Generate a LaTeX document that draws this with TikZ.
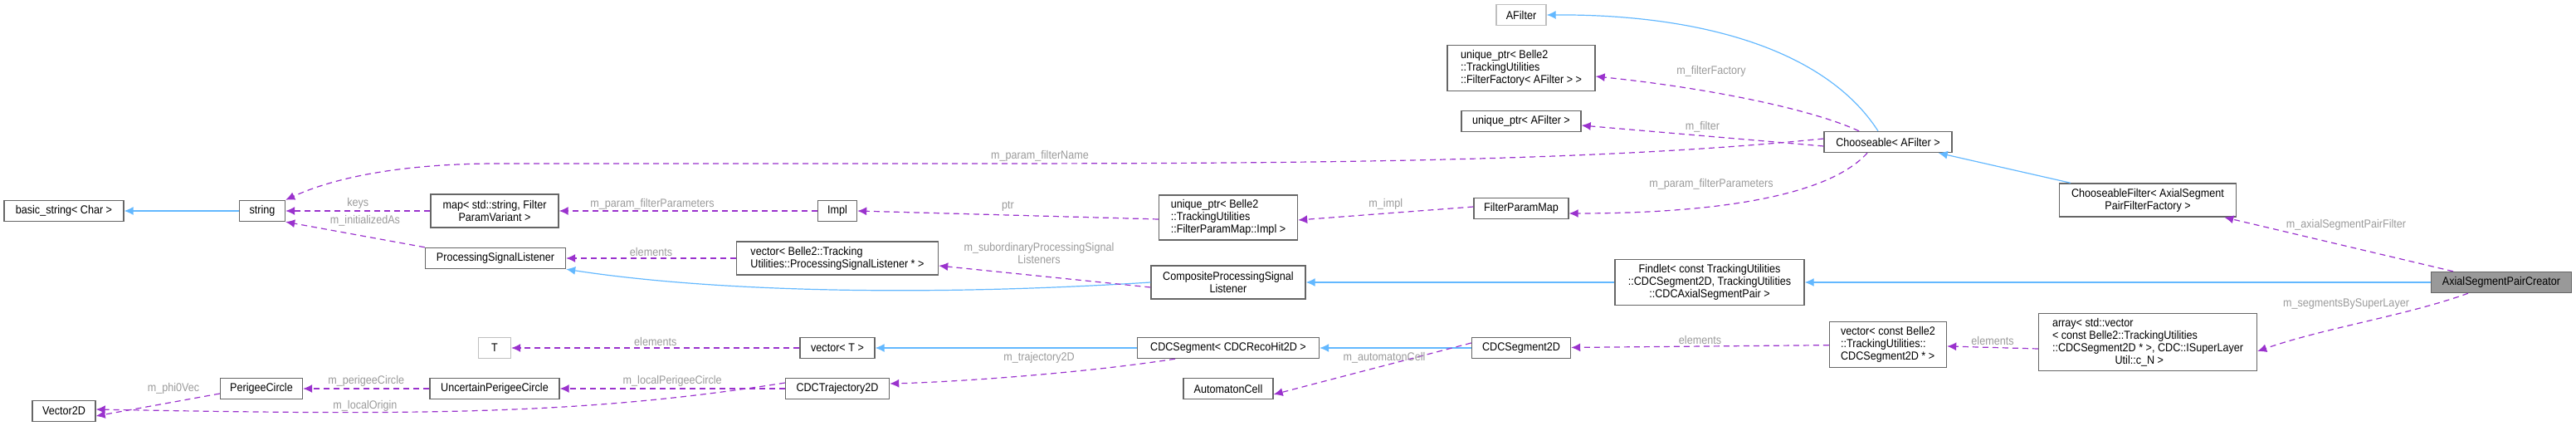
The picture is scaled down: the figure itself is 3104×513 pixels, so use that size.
\documentclass[tikz,border=0pt]{standalone}
\usepackage{fontspec}
\setmainfont{Liberation Sans}[FakeStretch=0.9]
\definecolor{dxblue}{HTML}{63B8FF}
\definecolor{dxpurple}{HTML}{9A32CD}
\definecolor{dxborder}{HTML}{666666}
\definecolor{dxlight}{HTML}{BFBFBF}
\definecolor{dxlabel}{HTML}{9A9A9A}
\definecolor{dxfill}{HTML}{999999}
\usetikzlibrary{arrows.meta,positioning}

\begin{document}
\begin{tikzpicture}[x=1pt,y=-1pt,
  box/.style={draw=dxborder, line width=1.4pt, fill=white, inner sep=2pt,
    font=\fontsize{14}{15}\selectfont, minimum height=25pt, align=center},
  lbox/.style={box, align=left},
  ghost/.style={box, draw=dxlight},
  lbl/.style={font=\fontsize{14}{15}\selectfont, text=dxlabel, align=center, inner sep=0pt},
  inh/.style={-{Latex[length=11pt,width=10pt]}, dxblue, line width=1.2pt},
  dep/.style={-{Latex[length=11pt,width=10pt]}, dxpurple, line width=1.2pt, dash pattern=on 7pt off 5pt}
]
  \useasboundingbox (0,0) rectangle (3104,513);

  % Classes, left to right
  \node[box, minimum width=144pt] (bstr) at (77,254) {basic\_string\textless{} Char \textgreater};
  \node[box, minimum width=55pt] (str) at (316,254) {string};
  \node[box, minimum width=76pt] (vec2d) at (77,495) {Vector2D};
  \node[box, minimum width=99pt] (pcirc) at (315,468) {PerigeeCircle};
  \node[box, minimum width=154pt, minimum height=40pt] (pmap) at (596,254) {map\textless{} std::string, Filter\\ParamVariant \textgreater};
  \node[box, minimum width=169pt] (psl) at (597,311) {ProcessingSignalListener};
  \node[ghost, minimum width=39pt] (tpar) at (596,419) {T};
  \node[box, minimum width=156pt] (upcirc) at (596,468) {UncertainPerigeeCircle};
  \node[box, minimum width=47pt] (impl) at (1009,254) {Impl};
  \node[lbox, minimum width=243pt, minimum height=40pt] (vpsl) at (1009,311) {vector\textless{} Belle2::Tracking\\Utilities::ProcessingSignalListener * \textgreater};
  \node[box, minimum width=90pt] (vect) at (1009,419) {vector\textless{} T \textgreater};
  \node[box, minimum width=125pt] (traj) at (1009,468) {CDCTrajectory2D};
  \node[lbox, minimum width=167pt, minimum height=54pt] (uimpl) at (1480,262) {unique\_ptr\textless{} Belle2\\::TrackingUtilities\\::FilterParamMap::Impl \textgreater};
  \node[box, minimum width=186pt, minimum height=40pt] (cpsl) at (1480,340) {CompositeProcessingSignal\\Listener};
  \node[box, minimum width=219pt] (cseg) at (1480,419) {CDCSegment\textless{} CDCRecoHit2D \textgreater};
  \node[box, minimum width=108pt] (acell) at (1480,468) {AutomatonCell};
  \node[ghost, minimum width=60pt] (afil) at (1833,18) {AFilter};
  \node[lbox, minimum width=178pt, minimum height=55pt] (ufac) at (1833,82) {unique\_ptr\textless{} Belle2\\::TrackingUtilities\\::FilterFactory\textless{} AFilter \textgreater{} \textgreater};
  \node[box, minimum width=144pt] (ufil) at (1833,146) {unique\_ptr\textless{} AFilter \textgreater};
  \node[box, minimum width=114pt] (fpm) at (1833,251) {FilterParamMap};
  \node[box, minimum width=119pt] (seg2d) at (1833,419) {CDCSegment2D};
  \node[box, minimum width=228pt, minimum height=55pt] (findlet) at (2060,340) {Findlet\textless{} const TrackingUtilities\\::CDCSegment2D, TrackingUtilities\\::CDCAxialSegmentPair \textgreater};
  \node[box, minimum width=154pt] (cho) at (2275,171) {Chooseable\textless{} AFilter \textgreater};
  \node[lbox, minimum width=141pt, minimum height=55pt] (vseg) at (2275,415) {vector\textless{} const Belle2\\::TrackingUtilities::\\CDCSegment2D * \textgreater};
  \node[box, minimum width=213pt, minimum height=40pt] (cfil) at (2588,241) {ChooseableFilter\textless{} AxialSegment\\PairFilterFactory \textgreater};
  \node[lbox, minimum width=263pt, minimum height=69pt] (arr) at (2588,412) {array\textless{} std::vector\\\textless{} const Belle2::TrackingUtilities\\::CDCSegment2D * \textgreater, CDC::ISuperLayer\\\hphantom{xxxxxxxxxxxx}Util::c\_N \textgreater};
  \node[box, fill=dxfill, minimum width=169pt] (aspc) at (3014,340) {AxialSegmentPairCreator};

  % Inheritance
  \draw[inh] (str) -- (bstr);
  \draw[inh] (cpsl.west) .. controls (1100,358) and (850,350) .. (psl.south east);
  \draw[inh] (findlet) -- (cpsl);
  \draw[inh] (aspc) -- (findlet);
  \draw[inh] ([xshift=-12pt]cho.north) .. controls (2200,60) and (2050,17) .. (afil.east);
  \draw[inh] ([xshift=-93pt]cfil.north) -- ([xshift=-17pt]cho.south east);
  \draw[inh] (cseg) -- (vect);
  \draw[inh] (seg2d) -- (cseg);

  % Members
  \draw[dep] (pmap) -- node[lbl, above=2pt] {keys} (str);
  \draw[dep] (psl.north west) -- (str.south east);
  \node[lbl] (linit) at (440,266) {m\_initializedAs};
  \draw[dep] ([yshift=4pt]cho.west) .. controls (1900,197) and (1500,197) .. (1100,197)
    -- (600,197) .. controls (480,197) and (400,215) .. (str.north east);
  \node[lbl] (lname) at (1253,188) {m\_param\_filterName};
  \draw[dep] (impl) -- (pmap);
  \node[lbl] (lpar1) at (786,246) {m\_param\_filterParameters};
  \draw[dep] ([yshift=-2pt]uimpl.west) -- node[lbl, above=4pt] {ptr} (impl.east);
  \draw[dep] ([yshift=2pt]fpm.west) -- node[lbl, above=4pt] {m\_impl} ([yshift=-3pt]uimpl.east);
  \draw[dep] ([xshift=-25pt]cho.south) .. controls (2200,240) and (2050,257) .. ([yshift=-6pt]fpm.east);
  \node[lbl] (lpar2) at (2062,222) {m\_param\_filterParameters};
  \draw[dep] ([xshift=-35pt]cho.north) .. controls (2180,130) and (2050,105) .. ([yshift=-10pt]ufac.east);
  \node[lbl] (lfac) at (2062,86) {m\_filterFactory};
  \draw[dep] ([yshift=-5pt]cho.west) -- node[lbl, above=4pt] {m\_filter} ([yshift=-5pt]ufil.east);
  \draw[dep] (vpsl) -- node[lbl, above=2pt] {elements} (psl);
  \draw[dep] ([yshift=-6pt]cpsl.west) -- ([yshift=-9pt]vpsl.east);
  \node[lbl] (lsub) at (1252,305) {m\_subordinaryProcessingSignal\\Listeners};
  \draw[dep] (vect) -- node[lbl, above=2pt] {elements} (tpar);
  \draw[dep] ([xshift=-64pt]cseg.south) .. controls (1300,450) and (1150,460) .. ([yshift=6pt]traj.east);
  \node[lbl] (ltraj) at (1252,431) {m\_trajectory2D};
  \draw[dep] (traj) -- node[lbl, above=2pt] {m\_localPerigeeCircle} (upcirc);
  \draw[dep] (upcirc) -- node[lbl, above=2pt] {m\_perigeeCircle} (pcirc);
  \draw[dep] ([yshift=-6pt]pcirc.west) -- ([yshift=-6pt]vec2d.east);
  \node[lbl] (lphi) at (209,468) {m\_phi0Vec};
  \draw[dep] ([yshift=7pt]traj.west) .. controls (700,500) and (500,500) .. ([yshift=2pt]vec2d.east);
  \node[lbl] (lorig) at (440,489) {m\_localOrigin};
  \draw[dep] ([yshift=6pt]seg2d.west) -- ([yshift=-7pt]acell.east);
  \node[lbl] (lcell) at (1668,431) {m\_automatonCell};
  \draw[dep] (vseg) -- node[lbl, above=2pt] {elements} (seg2d);
  \draw[dep] ([yshift=-8pt]arr.west) -- node[lbl, above=2pt] {elements} (vseg);
  \draw[dep] ([xshift=-58pt]aspc.north) -- ([xshift=-15pt]cfil.south east);
  \node[lbl] (lafil) at (2827,271) {m\_axialSegmentPairFilter};
  \draw[dep] ([xshift=-40pt]aspc.south) .. controls (2900,380) and (2800,395) .. ([yshift=-11pt]arr.east);
  \node[lbl] (lsbl) at (2827,366) {m\_segmentsBySuperLayer};
\end{tikzpicture}
\end{document}
